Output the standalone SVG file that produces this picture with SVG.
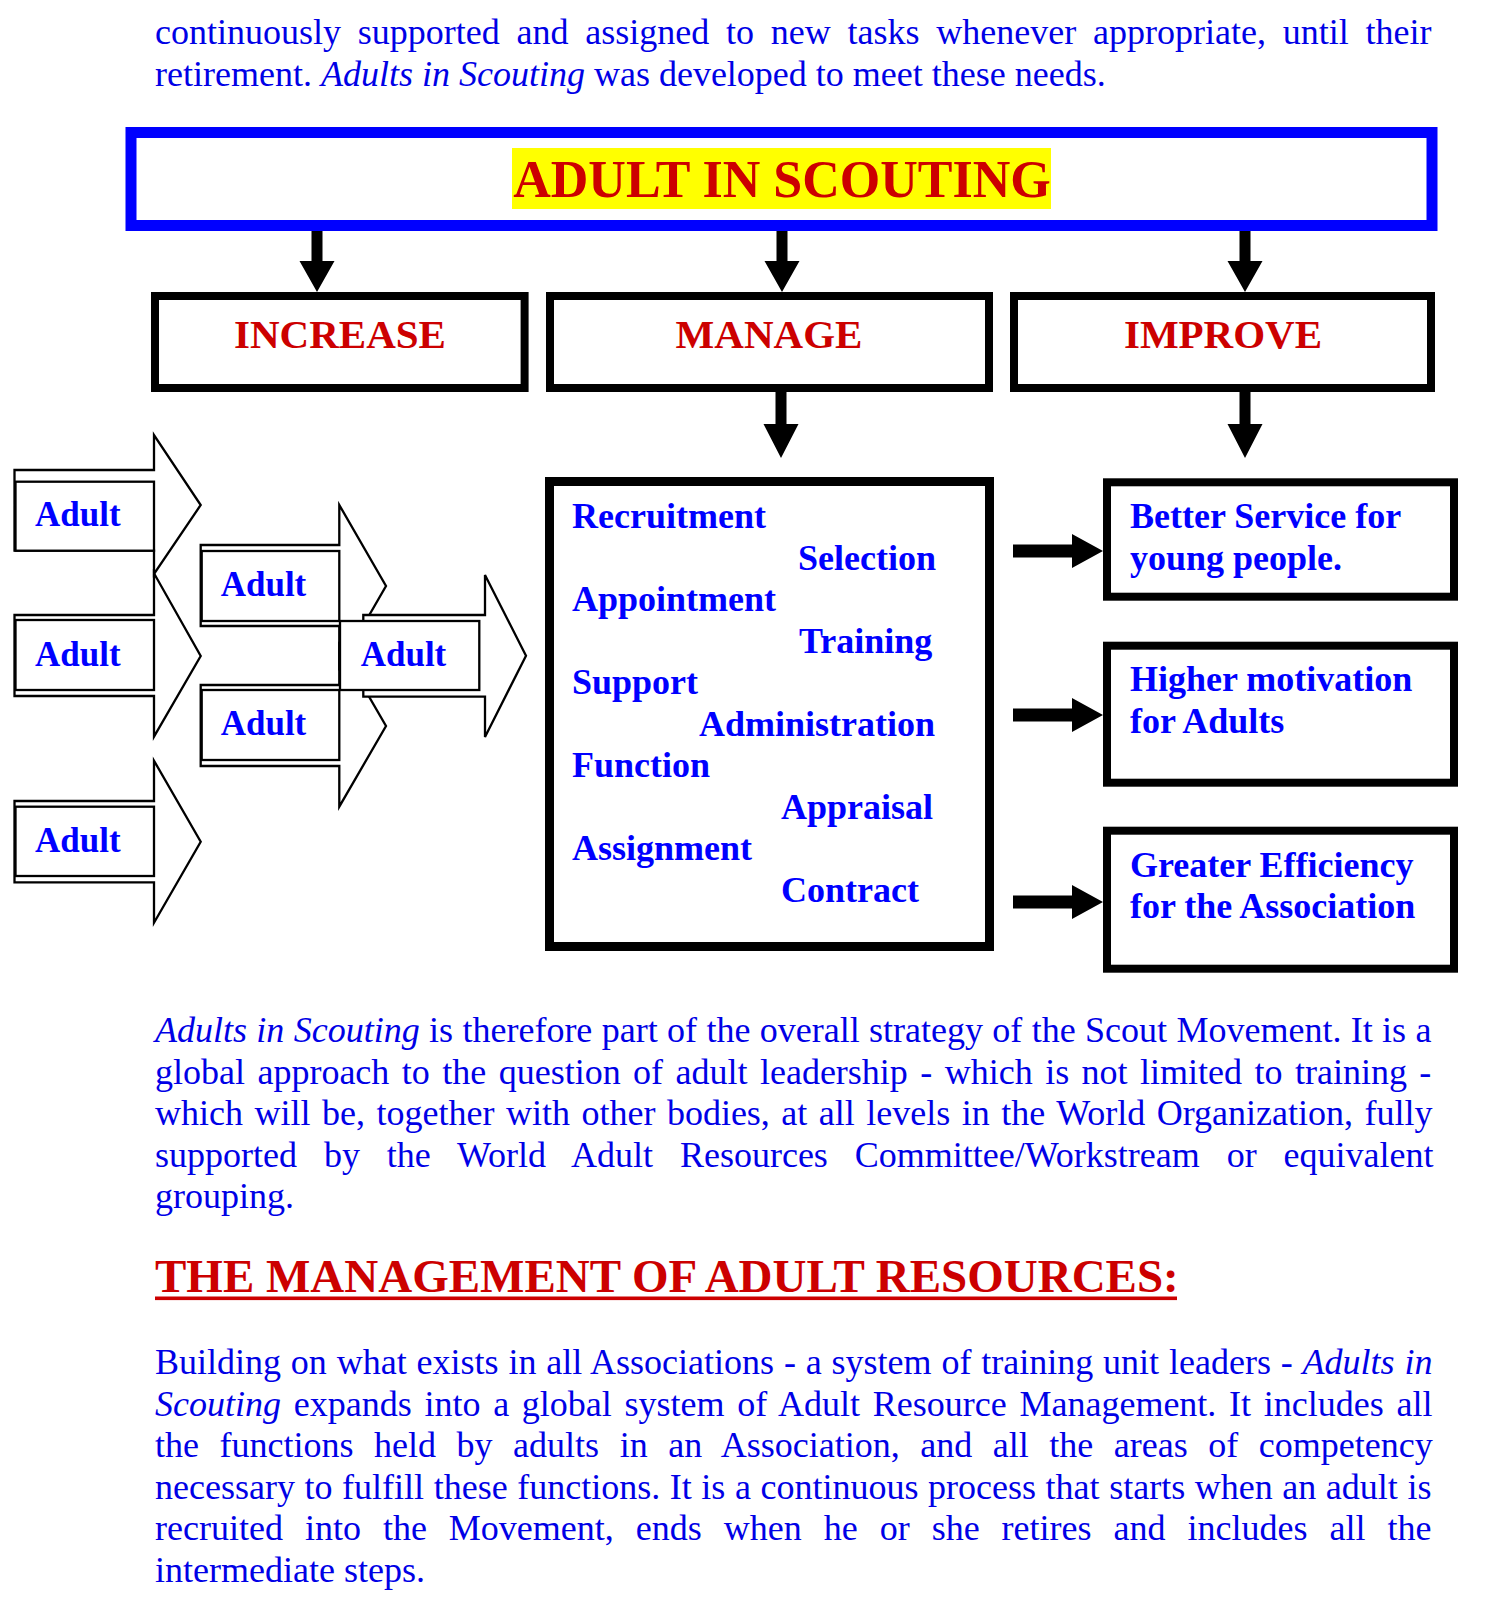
<svg xmlns="http://www.w3.org/2000/svg" width="1500" height="1600" viewBox="0 0 1500 1600">
<style>
  .body{font-family:"Liberation Serif","Times New Roman",serif;font-size:36px;fill:#0000E6}
  .it{font-style:italic}
  .bb{font-family:"Liberation Serif","Times New Roman",serif;font-weight:bold;font-size:36px;fill:#0000FF}
  .ad{font-family:"Liberation Serif","Times New Roman",serif;font-weight:bold;font-size:35px;fill:#0000FF}
  .red{font-family:"Liberation Serif","Times New Roman",serif;font-weight:bold;fill:#CC0000}
  .box{fill:#FFFFFF;stroke:#000000;stroke-width:8}
  .shape{fill:#FFFFFF;stroke:#000000;stroke-width:2.3;stroke-linejoin:miter}
  .arr{fill:#000000}
</style>
<rect width="1500" height="1600" fill="#FFFFFF"/>

<g id="intro-text" class="body">
  <text x="155" y="44" style="word-spacing:7.77px">continuously supported and assigned to new tasks whenever appropriate, until their</text>
  <text x="155" y="85.5">retirement. <tspan class="it">Adults in Scouting</tspan> was developed to meet these needs.</text>
</g>

<g id="node-adult-in-scouting">
  <rect x="131" y="132.5" width="1301" height="93" fill="#FFFFFF" stroke="#0000FF" stroke-width="11"/>
  <rect x="512" y="148" width="539" height="61" fill="#FFFF00"/>
  <text class="red" x="782" y="197" font-size="52" text-anchor="middle">ADULT IN SCOUTING</text>
</g>

<g id="node-increase">
  <rect class="box" x="155" y="296" width="369.6" height="92"/>
  <text class="red" x="340" y="348" font-size="41" text-anchor="middle">INCREASE</text>
</g>
<g id="node-manage">
  <rect class="box" x="550" y="296" width="439" height="92"/>
  <text class="red" x="769" y="348" font-size="41" text-anchor="middle">MANAGE</text>
</g>
<g id="node-improve">
  <rect class="box" x="1014" y="296" width="417" height="92"/>
  <text class="red" x="1223" y="348" font-size="41" text-anchor="middle">IMPROVE</text>
</g>

<g id="node-functions">
  <rect x="549.5" y="481.5" width="440" height="465" fill="#FFFFFF" stroke="#000000" stroke-width="9"/>
  <text class="bb" x="572" y="528">Recruitment</text>
  <text class="bb" x="798" y="569.5">Selection</text>
  <text class="bb" x="572" y="611">Appointment</text>
  <text class="bb" x="799" y="652.5">Training</text>
  <text class="bb" x="572" y="694">Support</text>
  <text class="bb" x="699" y="735.5">Administration</text>
  <text class="bb" x="572" y="777">Function</text>
  <text class="bb" x="781" y="818.5">Appraisal</text>
  <text class="bb" x="572" y="860">Assignment</text>
  <text class="bb" x="781" y="901.5">Contract</text>
</g>

<g id="node-better-service">
  <rect class="box" x="1107" y="482.3" width="347" height="114.4"/>
  <text class="bb" x="1130" y="528">Better Service for</text>
  <text class="bb" x="1130" y="570">young people.</text>
</g>
<g id="node-higher-motivation">
  <rect class="box" x="1107" y="645.7" width="347" height="137"/>
  <text class="bb" x="1130" y="691">Higher motivation</text>
  <text class="bb" x="1130" y="733">for Adults</text>
</g>
<g id="node-greater-efficiency">
  <rect class="box" x="1107" y="830.7" width="347" height="138"/>
  <text class="bb" x="1130" y="877">Greater Efficiency</text>
  <text class="bb" x="1130" y="918">for the Association</text>
</g>

<g id="node-adult-1">
  <polygon class="shape" points="14.5,470 154,470 154,435 200.7,505 154,574 154,550.7 14.5,550.7"/>
  <rect class="shape" x="15.5" y="481.7" width="138.5" height="69"/>
  <text class="ad" x="35" y="526">Adult</text>
</g>
<g id="node-adult-2">
  <polygon class="shape" points="14.5,615 154,615 154,573.3 200.7,656 154,736.7 154,696 14.5,696"/>
  <rect class="shape" x="15.5" y="620" width="138.5" height="70"/>
  <text class="ad" x="35" y="666">Adult</text>
</g>
<g id="node-adult-3">
  <polygon class="shape" points="14.5,801 154,801 154,760.7 200.7,841.7 154,922.7 154,882.3 14.5,882.3"/>
  <rect class="shape" x="15.5" y="806.7" width="138.5" height="69.3"/>
  <text class="ad" x="35" y="851.7">Adult</text>
</g>
<g id="node-adult-4">
  <polygon class="shape" points="200.7,545 339.3,545 339.3,505 386,586 339.3,667 339.3,626 200.7,626"/>
  <rect class="shape" x="201.7" y="551" width="137.6" height="70"/>
  <text class="ad" x="220.7" y="596">Adult</text>
</g>
<g id="node-adult-5">
  <polygon class="shape" points="200.7,685 339.3,685 339.3,645.3 386,726 339.3,806.7 339.3,766 200.7,766"/>
  <rect class="shape" x="201.7" y="690" width="137.6" height="70"/>
  <text class="ad" x="220.7" y="735">Adult</text>
</g>
<g id="node-adult-6">
  <polygon class="shape" points="363.3,615 485,615 485,575 526,655.7 485,737 485,696.7 363.3,696.7"/>
  <rect class="shape" x="340" y="621" width="139.3" height="69"/>
  <text class="ad" x="360.7" y="665.7">Adult</text>
</g>

<g id="connectors" class="arr">
  <polygon points="311.5,231 322.5,231 322.5,261 334.5,261 317,292 299.5,261 311.5,261"/>
  <polygon points="776.5,231 787.5,231 787.5,261 799.5,261 782,292 764.5,261 776.5,261"/>
  <polygon points="1239.5,231 1250.5,231 1250.5,261 1262.5,261 1245,292 1227.5,261 1239.5,261"/>
  <polygon points="775.5,392 786.5,392 786.5,424 798.5,424 781,458 763.5,424 775.5,424"/>
  <polygon points="1239.5,392 1250.5,392 1250.5,424 1262.5,424 1245,458 1227.5,424 1239.5,424"/>
  <polygon points="1013,544.5 1072,544.5 1072,534 1103,551 1072,568 1072,557.5 1013,557.5"/>
  <polygon points="1013,708.5 1072,708.5 1072,698 1103,715 1072,732 1072,721.5 1013,721.5"/>
  <polygon points="1013,895.5 1072,895.5 1072,885 1103,902 1072,919 1072,908.5 1013,908.5"/>
</g>

<g id="text-strategy" class="body">
  <text x="155" y="1042" style="word-spacing:0.36px"><tspan class="it">Adults in Scouting</tspan> is therefore part of the overall strategy of the Scout Movement. It is a</text>
  <text x="155" y="1083.5" style="word-spacing:3.44px">global approach to the question of adult leadership - which is not limited to training -</text>
  <text x="155" y="1125" style="word-spacing:2.5px">which will be, together with other bodies, at all levels in the World Organization, fully</text>
  <text x="155" y="1166.5" style="word-spacing:17.9px">supported by the World Adult Resources Committee/Workstream or equivalent</text>
  <text x="155" y="1208">grouping.</text>
</g>

<g id="heading-management">
  <text class="red" x="155" y="1292" font-size="47">THE MANAGEMENT OF ADULT RESOURCES:</text>
  <rect x="155" y="1296.5" width="1022" height="3.6" fill="#CC0000"/>
</g>

<g id="text-building" class="body">
  <text x="155" y="1374" style="word-spacing:0.85px">Building on what exists in all Associations - a system of training unit leaders - <tspan class="it">Adults in</tspan></text>
  <text x="155" y="1415.5" style="word-spacing:3.73px"><tspan class="it">Scouting</tspan> expands into a global system of Adult Resource Management. It includes all</text>
  <text x="155" y="1457" style="word-spacing:11.54px">the functions held by adults in an Association, and all the areas of competency</text>
  <text x="155" y="1498.5" style="word-spacing:0.58px">necessary to fulfill these functions. It is a continuous process that starts when an adult is</text>
  <text x="155" y="1540" style="word-spacing:12.98px">recruited into the Movement, ends when he or she retires and includes all the</text>
  <text x="155" y="1581.5">intermediate steps.</text>
</g>
</svg>
